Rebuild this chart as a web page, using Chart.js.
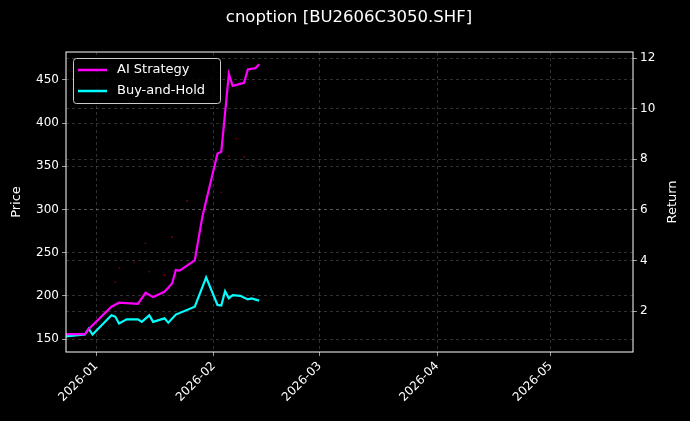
<!DOCTYPE html>
<html><head><meta charset="utf-8">
<script src="https://cdn.jsdelivr.net/npm/chart.js@4"></script>
<style>html,body{margin:0;background:#000;}#w{width:690px;height:421px;}</style>
</head><body><div id="w"><canvas id="c"></canvas></div>
<script>
const aiDates=["2025-12-24","2025-12-29","2025-12-30","2026-01-05","2026-01-07","2026-01-12","2026-01-14","2026-01-16","2026-01-19","2026-01-21","2026-01-22","2026-01-23","2026-01-27","2026-01-29","2026-02-02","2026-02-03","2026-02-05","2026-02-06","2026-02-09","2026-02-10","2026-02-12","2026-02-13"];
const aiReturn=[1.09,1.09,1.29,2.17,2.33,2.28,2.72,2.55,2.76,3.09,3.62,3.6,4.0,5.73,8.23,8.3,11.37,10.9,11.02,11.55,11.6,11.76];
const bhDates=["2025-12-24","2025-12-29","2025-12-30","2025-12-31","2026-01-05","2026-01-06","2026-01-07","2026-01-09","2026-01-12","2026-01-13","2026-01-15","2026-01-16","2026-01-19","2026-01-20","2026-01-22","2026-01-27","2026-01-30","2026-02-02","2026-02-03","2026-02-04","2026-02-05","2026-02-06","2026-02-08","2026-02-10","2026-02-11","2026-02-13"];
const bhReturn=[1.0,1.07,1.3,1.07,1.83,1.78,1.51,1.67,1.67,1.57,1.83,1.57,1.71,1.54,1.86,2.17,3.33,2.24,2.22,2.78,2.5,2.63,2.6,2.46,2.5,2.41];
const priceDates=["2026-01-05","2026-01-06","2026-01-07","2026-01-11","2026-01-14","2026-01-15","2026-01-19","2026-01-21","2026-01-24","2026-01-25","2026-02-03","2026-02-05","2026-02-07","2026-02-09","2026-02-11"];
const priceVals=[250,216,232,239,261,228,224,268,300,310,320,362,382,361,351];
const xTickDates=["2026-01-01","2026-02-01","2026-03-01","2026-04-01","2026-05-01"];
const xTickLabels=["2026-01","2026-02","2026-03","2026-04","2026-05"];
const base=Date.UTC(2026,0,1);
const d=s=>(Date.parse(s+"T00:00:00Z")-base)/86400000;
const pts=(ds,vs)=>ds.map((s,i)=>({x:d(s),y:vs[i]}));
const grid={color:'rgba(160,160,160,0.5)',lineWidth:0.6,drawTicks:true,tickColor:'#fff',tickLength:4};
const border={display:false,dash:[3,3]};
const tickFont={family:'DejaVu Sans',size:12};
const plug={id:'p',beforeDraw(c){const x=c.ctx;x.save();x.fillStyle='#000';x.fillRect(0,0,c.width,c.height);x.restore();},
afterDraw(c){const x=c.ctx,a=c.chartArea;x.save();
x.strokeStyle='#fff';x.lineWidth=1;x.strokeRect(a.left,a.top,a.right-a.left,a.bottom-a.top);
x.fillStyle='#fff';x.font='16.5px DejaVu Sans';x.textAlign='center';x.textBaseline='middle';x.fillText('cnoption [BU2606C3050.SHF]',349,18);
x.font='13px DejaVu Sans';x.save();x.translate(17,202);x.rotate(-Math.PI/2);x.fillText('Price',0,0);x.restore();
x.save();x.translate(673,202);x.rotate(-Math.PI/2);x.fillText('Return',0,0);x.restore();
x.fillStyle='rgba(0,0,0,0.85)';x.strokeStyle='#ccc';x.lineWidth=1;
x.beginPath();x.roundRect(73.5,58.5,147,45,3);x.fill();x.stroke();
x.lineWidth=2.5;x.strokeStyle='#ff00ff';x.beginPath();x.moveTo(78,70);x.lineTo(107,70);x.stroke();
x.strokeStyle='#00ffff';x.beginPath();x.moveTo(78,91);x.lineTo(107,91);x.stroke();
x.fillStyle='#fff';x.textAlign='left';x.font='13px DejaVu Sans';x.fillText('AI Strategy',117,70);x.fillText('Buy-and-Hold',117,91);
x.restore();}};
new Chart(document.getElementById('c'),{
data:{datasets:[
{type:'scatter',data:pts(priceDates,priceVals),yAxisID:'y',pointRadius:0.8,backgroundColor:'rgba(200,0,0,0.8)',borderWidth:0},
{type:'line',data:pts(aiDates,aiReturn),yAxisID:'y1',borderColor:'#ff00ff',borderWidth:2.2,pointRadius:0,tension:0},
{type:'line',data:pts(bhDates,bhReturn),yAxisID:'y1',borderColor:'#00ffff',borderWidth:2.2,pointRadius:0,tension:0}]},
options:{responsive:true,maintainAspectRatio:false,animation:false,layout:{padding:{top:52}},
plugins:{legend:{display:false},tooltip:{enabled:false}},
scales:{
x:{type:'linear',min:d("2025-12-24"),max:d("2026-05-22")+0.7,grid:grid,border:border,
afterBuildTicks(s){s.ticks=xTickDates.map(t=>({value:d(t)}));},
afterFit(s){s.height=69;},
ticks:{color:'#fff',font:tickFont,minRotation:45,maxRotation:45,autoSkip:false,callback:(v)=>{const i=xTickDates.findIndex(t=>d(t)===v);return i>=0?xTickLabels[i]:'';}}},
y:{position:'left',min:135,max:482.4,grid:grid,border:border,afterFit(s){s.width=66;},
afterBuildTicks(s){s.ticks=[150,200,250,300,350,400,450].map(v=>({value:v}));},ticks:{color:'#fff',font:tickFont}},
y1:{position:'right',min:0.38,max:12.24,grid:grid,border:border,afterFit(s){s.width=57;},
afterBuildTicks(s){s.ticks=[2,4,6,8,10,12].map(v=>({value:v}));},ticks:{color:'#fff',font:tickFont}}}},
plugins:[plug]});
</script></body></html>
